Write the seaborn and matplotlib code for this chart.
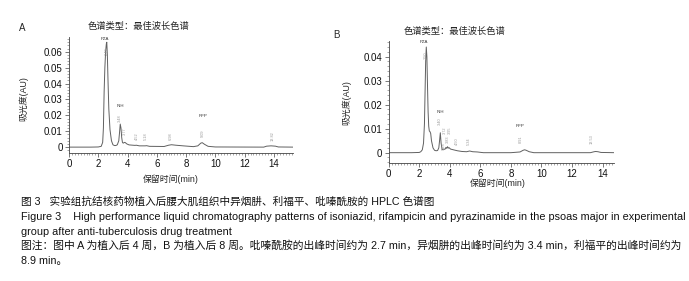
import matplotlib
matplotlib.use("Agg")
import matplotlib.pyplot as plt
import seaborn as sns
import pandas as pd
from matplotlib.ticker import MultipleLocator, AutoMinorLocator, FuncFormatter

# ---------------- data ----------------
time_a = [0, 0.5, 1.0, 1.5, 2.0, 2.2, 2.3, 2.35, 2.4, 2.45, 2.5, 2.55, 2.58, 2.62, 2.67,
          2.72, 2.8, 2.9, 3.0, 3.1, 3.2, 3.3, 3.4, 3.45, 3.5, 3.55, 3.6, 3.65, 3.7, 3.8,
          3.85, 3.95, 4.1, 4.5, 4.6, 4.8, 5.2, 5.3, 5.5, 6.5, 6.8, 7.0, 7.3, 7.8, 8.5,
          8.8, 9.0, 9.1, 9.25, 9.5, 10.0, 13.3, 13.5, 13.8, 14.1, 14.3, 15.3]
abs_a = [0, 0, 0, 0, 0.0001, 0.0005, 0.003, 0.012, 0.035, 0.05, 0.06, 0.065, 0.066, 0.058, 0.04,
         0.024, 0.011, 0.004, 0.0015, 0.001, 0.001, 0.0015, 0.004, 0.009, 0.0145, 0.012, 0.006, 0.003, 0.0025, 0.003,
         0.0028, 0.002, 0.0014, 0.0011, 0.0012, 0.0008, 0.0008, 0.0009, 0.0005, 0.0004, 0.0012, 0.0015, 0.0012, 0.0008, 0.0003,
         0.0008, 0.0025, 0.0028, 0.0018, 0.0005, 0.0001, 0, 0.0006, 0.0008, 0.0006, 0.0001, 0]

time_b = [0, 0.5, 1.0, 1.5, 2.0, 2.1, 2.2, 2.28, 2.34, 2.38, 2.42, 2.46, 2.5, 2.54, 2.58,
          2.62, 2.66, 2.7, 2.75, 2.8, 2.9, 3.0, 3.1, 3.2, 3.28, 3.33, 3.38, 3.43, 3.5,
          3.6, 3.68, 3.75, 3.8, 3.85, 3.9, 3.95, 4.05, 4.3, 4.5, 4.8, 5.1, 5.3, 5.5, 5.8,
          6.2, 8.0, 8.6, 8.8, 8.9, 9.0, 9.2, 9.5, 13.2, 13.45, 13.55, 13.7, 13.9, 14.8]
abs_b = [0, 0, 0, 0, 0.0001, 0.0004, 0.0012, 0.004, 0.012, 0.025, 0.038, 0.044, 0.04, 0.028, 0.017,
         0.011, 0.009, 0.0088, 0.008, 0.005, 0.002, 0.001, 0.0008, 0.0009, 0.002, 0.005, 0.0083, 0.004, 0.0012,
         0.0015, 0.0014, 0.0022, 0.0018, 0.0025, 0.0019, 0.0021, 0.0015, 0.0011, 0.0008, 0.0005, 0.0004, 0.0007, 0.0004, 0.0003,
         0, 0, 0.0003, 0.001, 0.0012, 0.001, 0.0004, 0, 0, 0.0004, 0.0005, 0.0004, 0.0001, 0]

# peak annotations: (time, height, text)
names_a = [(2.47, 0.068, "PZA"), (3.5, 0.0256, "INH"), (9.13, 0.0193, "RFP")]
rt_a = [(2.55, 0.0605, "2.49"), (3.5, 0.0184, "3.48"), (3.84, 0.0098, "3.77"),
        (4.63, 0.0067, "4.52"), (5.27, 0.0067, "5.18"), (6.97, 0.0067, "6.98"),
        (9.13, 0.009, "9.09"), (13.88, 0.0067, "13.82")]
names_b = [(2.3, 0.0462, "PZA"), (3.38, 0.017, "INH"), (8.62, 0.0112, "RFP")]
rt_b = [(2.46, 0.0405, "2.50"), (3.38, 0.0132, "3.40"), (3.7, 0.0092, "3.72"),
        (3.86, 0.0054, "3.83"), (4.0, 0.0092, "3.95"), (3.58, 0.0026, "3.68"),
        (4.45, 0.0048, "4.50"), (5.22, 0.0048, "5.34"), (8.68, 0.0055, "8.91"),
        (13.3, 0.0055, "13.53")]

yticks_a = [0, 0.01, 0.02, 0.03, 0.04, 0.05, 0.06]
yticks_b = [0, 0.01, 0.02, 0.03, 0.04]
xticks = [0, 2, 4, 6, 8, 10, 12, 14]

title_txt = "色谱类型：最佳波长色谱"
xlab = "保留时间(min)"
ylab = "吸光度(AU)"
caption = [
    "图 3   实验组抗结核药物植入后腰大肌组织中异烟肼、利福平、吡嗪酰胺的 HPLC 色谱图",
    "Figure 3    High performance liquid chromatography patterns of isoniazid, rifampicin and pyrazinamide in the psoas major in experimental",
    "group after anti-tuberculosis drug treatment",
    "图注：图中 A 为植入后 4 周，B 为植入后 8 周。吡嗪酰胺的出峰时间约为 2.7 min，异烟肼的出峰时间约为 3.4 min，利福平的出峰时间约为",
    "8.9 min。",
]

# ---------------- styling ----------------
sns.set_theme(style="ticks")
FAM = ["Liberation Sans", "Noto Sans CJK SC", "DejaVu Sans"]
plt.rcParams["font.family"] = FAM
plt.rcParams["axes.unicode_minus"] = False

W, H = 689, 281
fig = plt.figure(figsize=(W / 100, H / 100), dpi=100)


def px_axes(l, r, t, b):
    return fig.add_axes([l / W, 1 - b / H, (r - l) / W, (b - t) / H])


def fmt(v, pos):
    return "0" if abs(v) < 1e-9 else f"{v:.2f}"


LINE = "#606060"


def draw(ax, t, a, xmax, ymin, ymax, yticks, names, rts):
    df = pd.DataFrame({"t": t, "a": a})
    sns.lineplot(data=df, x="t", y="a", ax=ax, color=LINE, linewidth=0.7)
    ax.set_xlim(0, xmax)
    ax.set_ylim(ymin, ymax)
    ax.set_xticks(xticks)
    ax.set_yticks(yticks)
    ax.xaxis.set_minor_locator(MultipleLocator(0.2))
    ax.yaxis.set_minor_locator(AutoMinorLocator(5))
    ax.yaxis.set_major_formatter(FuncFormatter(fmt))
    ax.set_xlabel("")
    ax.set_ylabel("")
    for s in ("top", "right"):
        ax.spines[s].set_visible(False)
    for s in ("left", "bottom"):
        ax.spines[s].set_color("#444444")
        ax.spines[s].set_linewidth(0.6)
    ax.tick_params(axis="both", which="major", direction="out", length=3, width=0.5,
                   color="#444444", labelsize=7, pad=1.5, labelcolor="#111111")
    ax.tick_params(axis="both", which="minor", direction="out", length=1.5, width=0.4,
                   color="#666666")
    for x, y, s in names:
        ax.text(x, y, s, fontsize=3.2, ha="center", va="center", color="#333333")
    for x, y, s in rts:
        ax.text(x, y, s, fontsize=2.8, ha="center", va="center", color="#999999",
                rotation=90)


axA = px_axes(69, 293, 37, 153)
draw(axA, time_a, abs_a, 15.3, -0.0037, 0.0693, yticks_a, names_a, rt_a)
axB = px_axes(388.7, 614, 41, 162.7)
draw(axB, time_b, abs_b, 14.75, -0.00417, 0.0465, yticks_b, names_b, rt_b)


def ftxt(x, y, s, size, **kw):
    fig.text(x / W, 1 - y / H, s, fontsize=size, family=FAM, **kw)


# panel letters, titles, axis labels
ftxt(22, 28, "A", 7, ha="center", va="center")
ftxt(336, 35, "B", 7, ha="center", va="center")
ftxt(139, 26, title_txt, 6.7, ha="center", va="center")
ftxt(454.5, 31, title_txt, 6.7, ha="center", va="center")
ftxt(171, 179, xlab, 6.4, ha="center", va="center")
ftxt(497.5, 183, xlab, 6.4, ha="center", va="center")
ftxt(24, 99, ylab, 6.4, ha="center", va="center", rotation=90)
ftxt(347, 103, ylab, 6.4, ha="center", va="center", rotation=90)

# caption
cap_y = [202, 217, 232, 246, 261]
cap_size = [7.65, 7.85, 7.85, 7.75, 7.75]
for s, y, sz in zip(caption, cap_y, cap_size):
    ftxt(21, y, s, sz, ha="left", va="center", color="#111111")

fig.savefig("out.png", dpi=100)
